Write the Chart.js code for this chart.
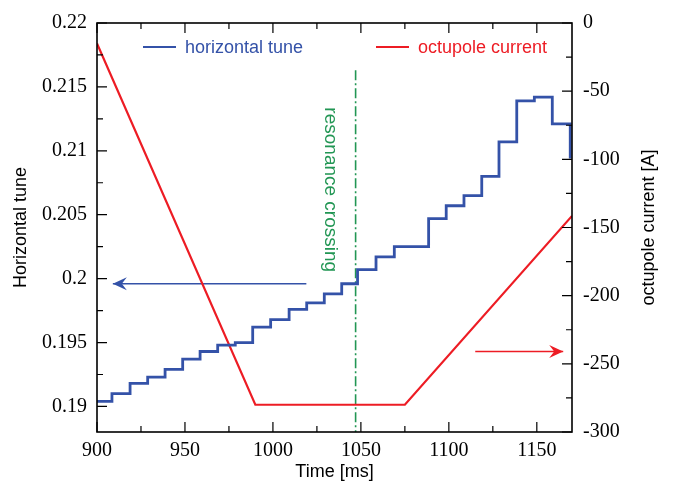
<!DOCTYPE html>
<html>
<head>
<meta charset="utf-8">
<script src="https://cdn.jsdelivr.net/npm/chart.js@4.4.1/dist/chart.umd.min.js"></script>
<style>
  body { margin: 0; background: #fff; }
  #wrap { width: 676px; height: 492px; }
</style>
</head>
<body>
<div id="wrap"><canvas id="tuneChart" width="676" height="492"></canvas></div>
<script>
// horizontal tune (階段状) : ステップの開始時刻 [ms] と値
const stepTimes = [900, 908.5, 918.8, 928.8, 938.7, 948.7, 958.6, 968.6, 978.6, 988.5,
  998.7, 1009.2, 1019.2, 1029.2, 1039.1, 1048.1, 1058.6, 1069, 1088.5, 1098.5,
  1108.6, 1118.7, 1128.5, 1138.6, 1148.6, 1158.8, 1169];
const tuneValues = [0.1904, 0.1910, 0.1918, 0.1923, 0.1929, 0.1937, 0.1943, 0.1948, 0.1950, 0.1962,
  0.1968, 0.1976, 0.1981, 0.1988, 0.1996, 0.2007, 0.2017, 0.2025, 0.2047, 0.2057,
  0.2065, 0.2080, 0.2107, 0.2139, 0.2142, 0.2121, 0.2094];

// octupole current [A]
const currentTimes = [900, 990, 1075, 1170];
const currentValues = [-15, -280, -280, -141.5];

// resonance crossing
const resonanceTime = 1047;
const resonanceTop = 0.2163;

// 矢印 (どちらの軸か)
const tuneArrowX = [1019, 909];
const tuneArrowY = 0.1996;
const currentArrowX = [1115, 1165];
const currentArrowY = -241;

// 目盛り
const xTicks = [900, 950, 1000, 1050, 1100, 1150];
const tuneTicks = [0.19, 0.195, 0.2, 0.205, 0.21, 0.215, 0.22];
const currentTicks = [-300, -250, -200, -150, -100, -50, 0];

const blue = 'rgb(52, 82, 168)';
const red = 'rgb(237, 28, 36)';
const green = 'rgb(34, 150, 84)';
const serif = "'Liberation Serif', 'Times New Roman', serif";
const sans = "'Liberation Sans', Arial, Helvetica, sans-serif";

function toPoints(xs, ys) {
  return xs.map((x, i) => ({ x: x, y: Array.isArray(ys) ? ys[i] : ys }));
}

// 中間の目盛り
function minorOf(ticks) {
  const out = [];
  for (let i = 0; i < ticks.length - 1; i++) out.push((ticks[i] + ticks[i + 1]) / 2);
  return out;
}

// 枠・内向きの目盛り・矢印・凡例など
const framePlugin = {
  id: 'frameTicks',
  afterDatasetsDraw(chart) {
    const { ctx, chartArea: a, scales } = chart;
    ctx.save();

    // arrow heads
    chart.data.datasets.forEach((ds, i) => {
      if (!ds.arrow) return;
      const pts = chart.getDatasetMeta(i).data;
      const p0 = pts[pts.length - 2], p1 = pts[pts.length - 1];
      const ang = Math.atan2(p1.y - p0.y, p1.x - p0.x);
      ctx.save();
      ctx.translate(p1.x, p1.y);
      ctx.rotate(ang);
      ctx.fillStyle = ds.borderColor;
      ctx.beginPath();
      ctx.moveTo(0, 0);
      ctx.lineTo(-14, -6.5);
      ctx.lineTo(-9, 0);
      ctx.lineTo(-14, 6.5);
      ctx.closePath();
      ctx.fill();
      ctx.restore();
    });

    // frame
    ctx.strokeStyle = '#000';
    ctx.lineWidth = 1.6;
    ctx.strokeRect(a.left, a.top, a.right - a.left, a.bottom - a.top);

    ctx.lineWidth = 1.2;
    ctx.beginPath();
    const xs = scales.x, yl = scales.y, yr = scales.y2;
    xTicks.forEach(v => {
      const px = xs.getPixelForValue(v);
      ctx.moveTo(px, a.bottom); ctx.lineTo(px, a.bottom - 10);
      ctx.moveTo(px, a.top); ctx.lineTo(px, a.top + 10);
    });
    minorOf(xTicks).concat([1175]).forEach(v => {
      if (v > xs.max) return;
      const px = xs.getPixelForValue(v);
      ctx.moveTo(px, a.bottom); ctx.lineTo(px, a.bottom - 6);
      ctx.moveTo(px, a.top); ctx.lineTo(px, a.top + 6);
    });
    tuneTicks.forEach(v => {
      const py = yl.getPixelForValue(v);
      ctx.moveTo(a.left, py); ctx.lineTo(a.left + 10, py);
    });
    minorOf(tuneTicks).forEach(v => {
      const py = yl.getPixelForValue(v);
      ctx.moveTo(a.left, py); ctx.lineTo(a.left + 6, py);
    });
    currentTicks.forEach(v => {
      const py = yr.getPixelForValue(v);
      ctx.moveTo(a.right, py); ctx.lineTo(a.right - 10, py);
    });
    minorOf(currentTicks).forEach(v => {
      const py = yr.getPixelForValue(v);
      ctx.moveTo(a.right, py); ctx.lineTo(a.right - 6, py);
    });
    ctx.stroke();

    // legend (グラフ内)
    ctx.font = '18px ' + sans;
    ctx.textBaseline = 'middle';
    ctx.textAlign = 'left';
    const ly = a.top + 24;
    [[a.left + 46, blue, 'horizontal tune'], [a.left + 279, red, 'octupole current']].forEach(it => {
      ctx.strokeStyle = it[1];
      ctx.lineWidth = 2;
      ctx.beginPath();
      ctx.moveTo(it[0], ly); ctx.lineTo(it[0] + 33, ly);
      ctx.stroke();
      ctx.fillStyle = it[1];
      ctx.fillText(it[2], it[0] + 42, ly + 1);
    });

    // resonance crossing
    ctx.save();
    ctx.translate(xs.getPixelForValue(resonanceTime) - 25, yl.getPixelForValue(0.2134));
    ctx.rotate(Math.PI / 2);
    ctx.fillStyle = green;
    ctx.font = '19px ' + sans;
    ctx.textAlign = 'left';
    ctx.fillText('resonance crossing', 0, 0);
    ctx.restore();

    // 右軸タイトル
    ctx.save();
    ctx.translate(chart.width - 27, (a.top + a.bottom) / 2);
    ctx.rotate(-Math.PI / 2);
    ctx.fillStyle = '#000';
    ctx.font = '18px ' + sans;
    ctx.textAlign = 'center';
    ctx.fillText('octupole current [A]', 0, 0);
    ctx.restore();

    ctx.restore();
  }
};

let ctx = document.getElementById('tuneChart').getContext('2d');
window.tuneChart = new Chart(ctx, {
  type: 'line',
  data: {
    datasets: [
      {
        label: 'horizontal tune',
        data: toPoints(stepTimes, tuneValues),
        yAxisID: 'y',
        borderColor: blue,
        borderWidth: 2.8,
        stepped: 'before',
      },
      {
        label: 'octupole current',
        data: toPoints(currentTimes, currentValues),
        yAxisID: 'y2',
        borderColor: red,
        borderWidth: 2.2,
      },
      {
        label: 'resonance crossing',
        data: toPoints([resonanceTime, resonanceTime], [resonanceTop, 0.188]),
        yAxisID: 'y',
        borderColor: green,
        borderWidth: 1.6,
        borderDash: [10, 3, 2, 3],
      },
      {
        label: 'tune arrow',
        data: toPoints(tuneArrowX, tuneArrowY),
        yAxisID: 'y',
        borderColor: blue,
        borderWidth: 1.5,
        arrow: true,
      },
      {
        label: 'current arrow',
        data: toPoints(currentArrowX, currentArrowY),
        yAxisID: 'y2',
        borderColor: red,
        borderWidth: 1.5,
        arrow: true,
      },
    ]
  },
  options: {
    responsive: false,
    animation: false,
    layout: { padding: { top: 17, left: 0, right: 0, bottom: 0 } },
    elements: { point: { radius: 0 }, line: { tension: 0 } },
    plugins: { legend: { display: false }, tooltip: { enabled: false } },
    scales: {
      x: {
        type: 'linear',
        min: 900,
        max: 1170,
        grid: { display: false, drawTicks: false },
        border: { display: false },
        afterBuildTicks: s => { s.ticks = xTicks.map(v => ({ value: v })); },
        afterFit: s => { s.height = 60; },
        ticks: { color: '#000', padding: 7, maxRotation: 0, font: { family: serif, size: 20 }, callback: v => String(v) },
        title: { display: true, text: 'Time [ms]', color: '#000', font: { family: sans, size: 18 }, padding: { top: 0, bottom: 9 } },
      },
      y: {
        type: 'linear',
        position: 'left',
        min: 0.188,
        max: 0.22,
        grid: { display: false, drawTicks: false },
        border: { display: false },
        afterBuildTicks: s => { s.ticks = tuneTicks.map(v => ({ value: v })); },
        afterFit: s => { s.width = 97; },
        ticks: { color: '#000', padding: 10, font: { family: serif, size: 20 }, callback: v => String(v) },
        title: { display: true, text: 'Horizontal tune', color: '#000', font: { family: sans, size: 18 }, padding: { top: 10, bottom: 0 } },
      },
      y2: {
        type: 'linear',
        position: 'right',
        min: -300,
        max: 0,
        grid: { display: false, drawTicks: false },
        border: { display: false },
        afterBuildTicks: s => { s.ticks = currentTicks.map(v => ({ value: v })); },
        afterFit: s => { s.width = 104; },
        ticks: { color: '#000', padding: 11, font: { family: serif, size: 20 }, callback: v => String(v) },
      },
    }
  },
  plugins: [framePlugin]
});
</script>
</body>
</html>
